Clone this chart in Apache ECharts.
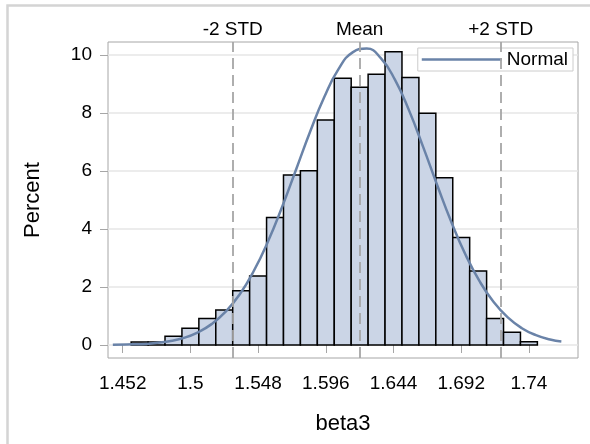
<!DOCTYPE html>
<html>
<head>
<meta charset="utf-8">
<script src="https://cdn.jsdelivr.net/npm/echarts@6/dist/echarts.min.js"></script>
<style>html,body{margin:0;padding:0;background:#fff}#c{width:590px;height:444px}</style>
</head>
<body>
<div id="c"></div>
<script>
// Histogram bins (midpoints) and percentages
var binWidth = 0.012;
var binMids = [1.464, 1.476, 1.488, 1.500, 1.512, 1.524, 1.536, 1.548, 1.560, 1.572, 1.584, 1.596,
               1.608, 1.620, 1.632, 1.644, 1.656, 1.668, 1.680, 1.692, 1.704, 1.716, 1.728, 1.740];
var percents = [0.10, 0.10, 0.30, 0.58, 0.91, 1.21, 1.87, 2.38, 4.40, 5.86, 6.01, 7.76,
                9.20, 8.89, 9.34, 10.11, 9.22, 7.99, 5.77, 3.71, 2.55, 0.91, 0.44, 0.11];
// Normal curve points
var curveX = [1.445, 1.455, 1.465, 1.475, 1.485, 1.495, 1.505, 1.515, 1.525, 1.535, 1.545, 1.555,
              1.565, 1.575, 1.585, 1.595, 1.605, 1.615, 1.625, 1.635, 1.645, 1.655, 1.665, 1.675,
              1.685, 1.695, 1.705, 1.715, 1.725, 1.735, 1.745, 1.755, 1.763];
var curveY = [0.01, 0.02, 0.03, 0.07, 0.13, 0.24, 0.43, 0.72, 1.15, 1.75, 2.56, 3.57,
              4.76, 6.06, 7.37, 8.56, 9.51, 10.09, 10.22, 9.89, 9.15, 8.09, 6.83, 5.51,
              4.24, 3.12, 2.20, 1.48, 0.95, 0.58, 0.34, 0.19, 0.12];
// Reference lines
var refNames = ['-2 STD', 'Mean', '+2 STD'];
var refValues = [1.5293, 1.6229, 1.7165];
// Tick labels
var xTicks = [1.452, 1.5, 1.548, 1.596, 1.644, 1.692, 1.74];
var yTicks = [0, 2, 4, 6, 8, 10];

var FONT = "'Liberation Sans', Arial, sans-serif";
var chart = echarts.init(document.getElementById('c'), null, {renderer: 'canvas'});

var barData = binMids.map(function (m, i) { return [m, percents[i]]; });
var curveData = curveX.map(function (x, i) { return [x, curveY[i]]; });
var refData = refValues.map(function (v, i) {
  return { xAxis: v, label: { formatter: refNames[i] } };
});

chart.setOption({
  animation: false,
  backgroundColor: '#fff',
  graphic: [{
    type: 'rect', silent: true, z: 0,
    shape: { x: 7.5, y: 5.5, width: 700, height: 600 },
    style: { fill: 'none', stroke: '#d4d4d4', lineWidth: 2.5 }
  }],
  grid: {
    left: 108, right: 12, top: 42, bottom: 86,
    show: true, borderColor: '#a6a6a6', borderWidth: 1, backgroundColor: 'transparent'
  },
  legend: {
    right: 17, top: 48,
    padding: [2, 5, 2, 4],
    borderColor: '#cccccc', borderWidth: 1, backgroundColor: '#fff',
    itemWidth: 80, itemHeight: 2.5,
    textStyle: { fontFamily: FONT, fontSize: 19, color: '#000' },
    data: [{ name: 'Normal', icon: 'rect' }]
  },
  xAxis: {
    type: 'value',
    min: 1.44158, max: 1.7748,
    name: 'beta3', nameLocation: 'middle', nameGap: 55,
    nameTextStyle: { fontFamily: FONT, fontSize: 22, color: '#000' },
    axisLine: { show: false },
    axisTick: { show: true, length: 8, customValues: xTicks, lineStyle: { color: '#a6a6a6' } },
    axisLabel: { customValues: xTicks, margin: 16, fontFamily: FONT, fontSize: 19, color: '#000',
      formatter: function (v) { return String(v); } },
    splitLine: { show: false }
  },
  yAxis: {
    type: 'value',
    min: -0.448, max: 10.448,
    name: 'Percent', nameLocation: 'middle', nameGap: 64,
    nameTextStyle: { fontFamily: FONT, fontSize: 22, color: '#000' },
    axisLine: { show: false },
    axisTick: { show: true, length: 8, customValues: yTicks, lineStyle: { color: '#a6a6a6' } },
    axisLabel: { customValues: yTicks, margin: 16, fontFamily: FONT, fontSize: 19, color: '#000' },
    splitLine: { show: true, lineStyle: { color: '#e6e6e6', width: 1.5 } }
  },
  series: [{
    type: 'custom',
    name: 'Histogram',
    z: 2,
    data: barData,
    renderItem: function (params, api) {
      var mid = api.value(0), h = api.value(1);
      var p0 = api.coord([mid - binWidth / 2, h]);
      var p1 = api.coord([mid + binWidth / 2, 0]);
      return {
        type: 'rect',
        shape: { x: p0[0], y: p0[1], width: p1[0] - p0[0], height: p1[1] - p0[1] },
        style: { fill: '#cbd5e6', stroke: '#000', lineWidth: 1.5 }
      };
    }
  }, {
    type: 'line',
    name: 'Normal',
    z: 4,
    data: curveData,
    smooth: true,
    symbol: 'none',
    lineStyle: { color: '#6a83a8', width: 2.5 },
    itemStyle: { color: '#6a83a8' },
    markLine: {
      silent: true,
      symbol: 'none',
      animation: false,
      lineStyle: { color: '#a6a6a6', type: [11, 6], width: 1.8 },
      label: { position: 'end', distance: 3, fontFamily: FONT, fontSize: 19, color: '#000' },
      data: refData
    }
  }]
});
</script>
</body>
</html>
